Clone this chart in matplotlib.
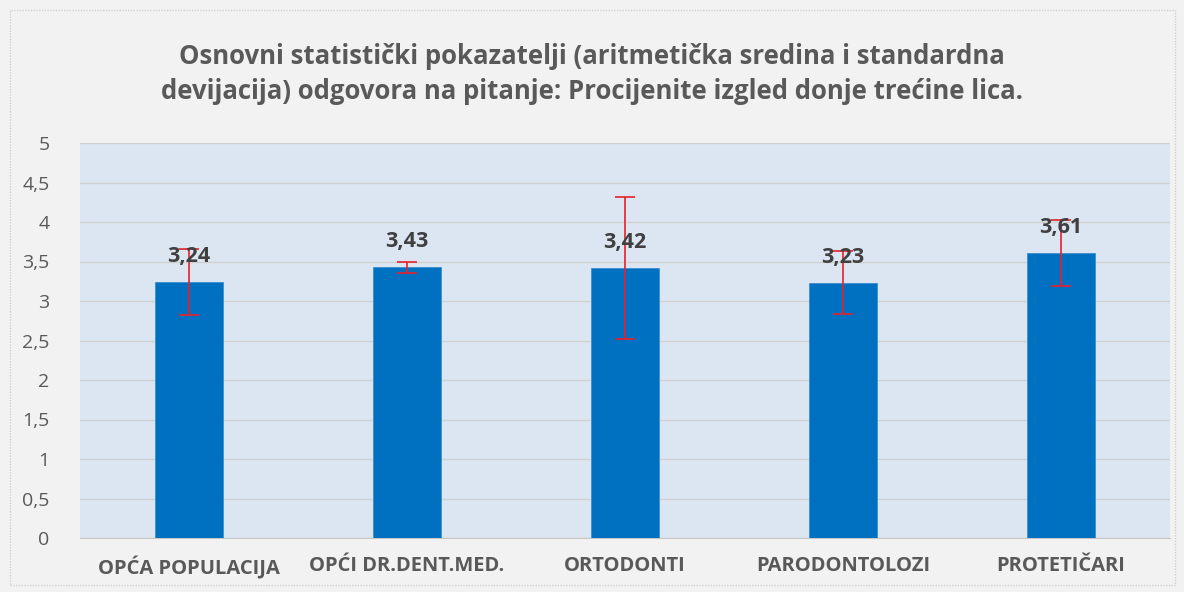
import numpy as np
import matplotlib.pyplot as plt
from matplotlib.patches import Rectangle

categories = ["OPĆA POPULACIJA", "OPĆI DR.DENT.MED.", "ORTODONTI", "PARODONTOLOZI", "PROTETIČARI"]
means = [3.24, 3.43, 3.42, 3.23, 3.61]
sds = [0.42, 0.07, 0.90, 0.40, 0.42]
yticks = [0, 0.5, 1, 1.5, 2, 2.5, 3, 3.5, 4, 4.5, 5]

plt.rcParams['font.family'] = ['Open Sans', 'DejaVu Sans']
txt = '#595959'

fig = plt.figure(figsize=(11.84, 5.92), dpi=100, facecolor='#f2f2f2')
fig.patches.append(Rectangle((10/1184, 7/592), 1165/1184, 575/592, transform=fig.transFigure,
                             fill=False, edgecolor='#d0d0d0', lw=1, ls=(0, (1, 1))))
ax = fig.add_axes([80/1184, 1-538/592, 1090/1184, 395/592])
ax.set_facecolor('#dce6f2')

x = np.arange(len(categories))
ax.bar(x, means, width=0.31, color='#0070c0', edgecolor='#3d8fd0', lw=0.6, zorder=3)
ax.errorbar(x, means, yerr=sds, fmt='none', ecolor='#e8202a', elinewidth=1.2,
            capsize=7, capthick=1.2, zorder=4)
for xi, m in zip(x, means):
    ax.text(xi, m + 0.19, f"{m:.2f}".replace('.', ','), ha='center', va='bottom',
            fontsize=15.5, fontweight='bold', color='#404040', zorder=5)

ax.set_xlim(-0.5, len(categories) - 0.5)
ax.set_ylim(0, 5)
ax.set_yticks(yticks)
ax.set_yticklabels([f"{v:g}".replace('.', ',') for v in yticks], fontsize=14, color=txt)
ax.set_xticks(x)
ax.set_xticklabels(categories, fontsize=14.5, fontweight='bold', color=txt)
ax.tick_params(axis='both', length=0)
ax.tick_params(axis='y', pad=22)
ax.tick_params(axis='x', pad=13)
ax.grid(axis='y', color='#d0d0d0', lw=1, zorder=0)
for s in ['top', 'right', 'left']:
    ax.spines[s].set_visible(False)
ax.spines['bottom'].set_color('#c8c8c8')

fig.text(0.5, 0.875, "Osnovni statistički pokazatelji (aritmetička sredina i standardna\n"
         "devijacija) odgovora na pitanje: Procijenite izgled donje trećine lica.",
         ha='center', va='center', fontsize=18.5, fontweight='bold', color=txt, linespacing=1.35)

plt.savefig('out.png', dpi=100, facecolor=fig.get_facecolor())
